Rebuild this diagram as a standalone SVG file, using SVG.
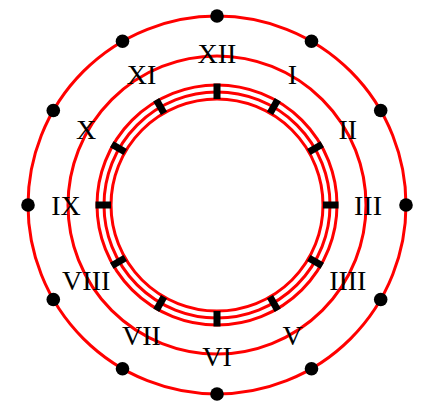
<svg xmlns="http://www.w3.org/2000/svg" width="439" height="417" viewBox="0 0 439 417">
<style>
.ring{fill:none;stroke:#ff0000;stroke-width:3}
.ring2{fill:none;stroke:#ff0000;stroke-width:3}
.dot{fill:#000}
.tick{fill:#000}
.lbl{font-family:"Liberation Serif","Times New Roman",serif;font-size:28px;fill:#000;text-anchor:middle}
</style>
<rect width="439" height="417" fill="#fff"/>
<g id="rings">
<circle class="ring" cx="217" cy="205" r="189"/>
<circle class="ring" cx="217" cy="205" r="149"/>
<circle class="ring2" cx="217" cy="205" r="120"/>
<circle class="ring2" cx="217" cy="205" r="113"/>
<circle class="ring2" cx="217" cy="205" r="106"/>
</g>
<g id="ticks" transform="translate(217,205)">
<rect class="tick" x="-3.5" y="-121.5" width="7" height="15.5" transform="rotate(0)"/>
<rect class="tick" x="-3.5" y="-121.5" width="7" height="15.5" transform="rotate(30)"/>
<rect class="tick" x="-3.5" y="-121.5" width="7" height="15.5" transform="rotate(60)"/>
<rect class="tick" x="-3.5" y="-121.5" width="7" height="15.5" transform="rotate(90)"/>
<rect class="tick" x="-3.5" y="-121.5" width="7" height="15.5" transform="rotate(120)"/>
<rect class="tick" x="-3.5" y="-121.5" width="7" height="15.5" transform="rotate(150)"/>
<rect class="tick" x="-3.5" y="-121.5" width="7" height="15.5" transform="rotate(180)"/>
<rect class="tick" x="-3.5" y="-121.5" width="7" height="15.5" transform="rotate(210)"/>
<rect class="tick" x="-3.5" y="-121.5" width="7" height="15.5" transform="rotate(240)"/>
<rect class="tick" x="-3.5" y="-121.5" width="7" height="15.5" transform="rotate(270)"/>
<rect class="tick" x="-3.5" y="-121.5" width="7" height="15.5" transform="rotate(300)"/>
<rect class="tick" x="-3.5" y="-121.5" width="7" height="15.5" transform="rotate(330)"/>
</g>
<g id="dots">
<circle class="dot" cx="217" cy="16" r="6.8"/>
<circle class="dot" cx="311.5" cy="41.3" r="6.8"/>
<circle class="dot" cx="380.7" cy="110.5" r="6.8"/>
<circle class="dot" cx="406" cy="205" r="6.8"/>
<circle class="dot" cx="380.7" cy="299.5" r="6.8"/>
<circle class="dot" cx="311.5" cy="368.7" r="6.8"/>
<circle class="dot" cx="217" cy="394" r="6.8"/>
<circle class="dot" cx="122.5" cy="368.7" r="6.8"/>
<circle class="dot" cx="53.3" cy="299.5" r="6.8"/>
<circle class="dot" cx="28" cy="205" r="6.8"/>
<circle class="dot" cx="53.3" cy="110.5" r="6.8"/>
<circle class="dot" cx="122.5" cy="41.3" r="6.8"/>
</g>
<g id="labels">
<text class="lbl" x="217" y="63">XII</text>
<text class="lbl" x="292.5" y="84">I</text>
<text class="lbl" x="347.8" y="139">II</text>
<text class="lbl" x="368" y="214.5">III</text>
<text class="lbl" x="347.8" y="290">IIII</text>
<text class="lbl" x="292.5" y="345">V</text>
<text class="lbl" x="217" y="365.5">VI</text>
<text class="lbl" x="141.5" y="345">VII</text>
<text class="lbl" x="86.2" y="290">VIII</text>
<text class="lbl" x="66" y="214.5">IX</text>
<text class="lbl" x="86.2" y="139">X</text>
<text class="lbl" x="141.5" y="84">XI</text>
</g>
</svg>
